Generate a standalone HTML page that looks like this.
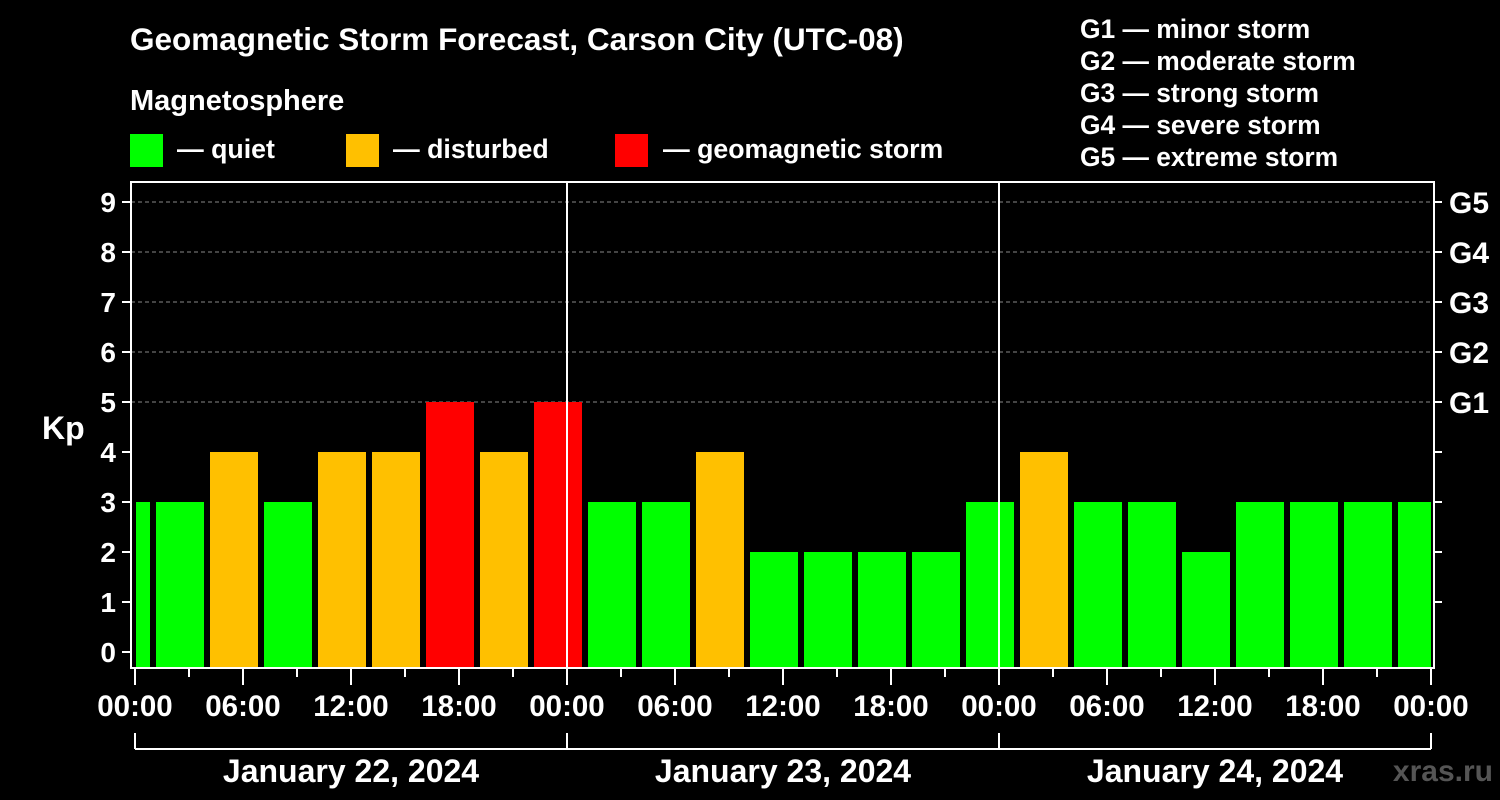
<!DOCTYPE html>
<html><head><meta charset="utf-8"><style>
body{margin:0;background:#000;}
svg{display:block;font-family:"Liberation Sans",Arial,sans-serif;font-weight:bold;}
</style></head><body>
<svg id="c" width="1500" height="800" viewBox="0 0 1500 800">
<rect width="1500" height="800" fill="#000"/>
<text x="130" y="50" fill="#fff" font-size="31.5">Geomagnetic Storm Forecast, Carson City (UTC-08)</text>
<text x="130" y="110" fill="#fff" font-size="29">Magnetosphere</text>
<g><rect x="130" y="134" width="33" height="33" fill="#00ff00"/><text x="177" y="158" fill="#fff" font-size="26.7">— quiet</text></g>
<g><rect x="346" y="134" width="33" height="33" fill="#ffc000"/><text x="393" y="158" fill="#fff" font-size="26.7">— disturbed</text></g>
<g><rect x="615" y="134" width="33" height="33" fill="#ff0000"/><text x="663" y="158" fill="#fff" font-size="26.7">— geomagnetic storm</text></g>
<g fill="#fff" font-size="26.4">
<text x="1080" y="38">G1 — minor storm</text><text x="1080" y="70">G2 — moderate storm</text><text x="1080" y="102">G3 — strong storm</text><text x="1080" y="134">G4 — severe storm</text><text x="1080" y="166">G5 — extreme storm</text></g>
<text x="42" y="439" fill="#fff" font-size="32">Kp</text>
<text x="1493" y="781" fill="#555" font-size="30" text-anchor="end">xras.ru</text>
<g id="grid"></g><g id="bars"></g><g id="axes"></g>
</svg>
<script>
const kpValues=[3, 3,4,3,4,4,5,4,5, 3,3,4,2,2,2,2,3, 4,3,3,2,3,3,3,3];
const barStartHours=[-2,1,4,7,10,13,16,19,22,25,28,31,34,37,40,43,46,49,52,55,58,61,64,67,70];
const dayLabels=["January 22, 2024","January 23, 2024","January 24, 2024"];
const hourTicks=["00:00","06:00","12:00","18:00"];
const gLabels=["G1","G2","G3","G4","G5"];
const NS="http://www.w3.org/2000/svg";
const X0=135,PX_H=18,L=131,R=1434,T=182,B=668;
const x=h=>X0+h*PX_H;
const y=k=>652-50*k;
function mk(tag,attrs,parent){const e=document.createElementNS(NS,tag);for(const k in attrs)e.setAttribute(k,attrs[k]);parent.appendChild(e);return e;}
const grid=document.getElementById('grid'),bars=document.getElementById('bars'),axes=document.getElementById('axes');
for(let k=5;k<=9;k++){const l=mk('line',{x1:L,x2:R,y1:y(k),y2:y(k),stroke:'#888','stroke-dasharray':'4,3','stroke-width':1},grid);

}
kpValues.forEach((v,i)=>{let a=x(barStartHours[i])+3,b=x(barStartHours[i]+3)-3;a=Math.max(a,L+5);b=Math.min(b,R-3);
const col=v>=5?'#ff0000':(v>=4?'#ffc000':'#00ff00');
const r=mk('rect',{x:a,y:y(v),width:b-a,height:B-y(v),fill:col},bars);

});
for(let d=1;d<3;d++){const l=mk('line',{x1:x(24*d),x2:x(24*d),y1:T,y2:B,stroke:'#fff','stroke-width':2},axes);

}
const box=mk('rect',{x:L,y:T,width:R-L,height:B-T,fill:'none',stroke:'#fff','stroke-width':2},axes);


for(let k=0;k<=9;k++){mk('line',{x1:122,x2:L,y1:y(k),y2:y(k),stroke:'#fff','stroke-width':2},axes);
const t=mk('text',{x:116,y:y(k)+10,fill:'#fff','font-size':28,'text-anchor':'end'},axes);t.textContent=k;


if(k>=1)mk('line',{x1:R,x2:R+8,y1:y(k),y2:y(k),stroke:'#fff','stroke-width':2},axes);
if(k>=5){const g=mk('text',{x:1449,y:y(k)+11,fill:'#fff','font-size':30},axes);g.textContent=gLabels[k-5];

}}
for(let h=0;h<=72;h+=3){const major=h%6===0;mk('line',{x1:x(h),x2:x(h),y1:B,y2:B+(major?17:9),stroke:'#fff','stroke-width':2},axes);
if(major){const t=mk('text',{x:x(h),y:716,fill:'#fff','font-size':29.5,'text-anchor':'middle'},axes);t.textContent=hourTicks[(h/6)%4];

}}
mk('line',{x1:x(0),x2:x(72),y1:749,y2:749,stroke:'#fff','stroke-width':2},axes);
for(let d=0;d<=3;d++)mk('line',{x1:x(24*d),x2:x(24*d),y1:733,y2:749,stroke:'#fff','stroke-width':2},axes);
dayLabels.forEach((s,d)=>{const t=mk('text',{x:x(24*d+12),y:782,fill:'#fff','font-size':32,'text-anchor':'middle'},axes);t.textContent=s;

});
</script>
</body></html>
